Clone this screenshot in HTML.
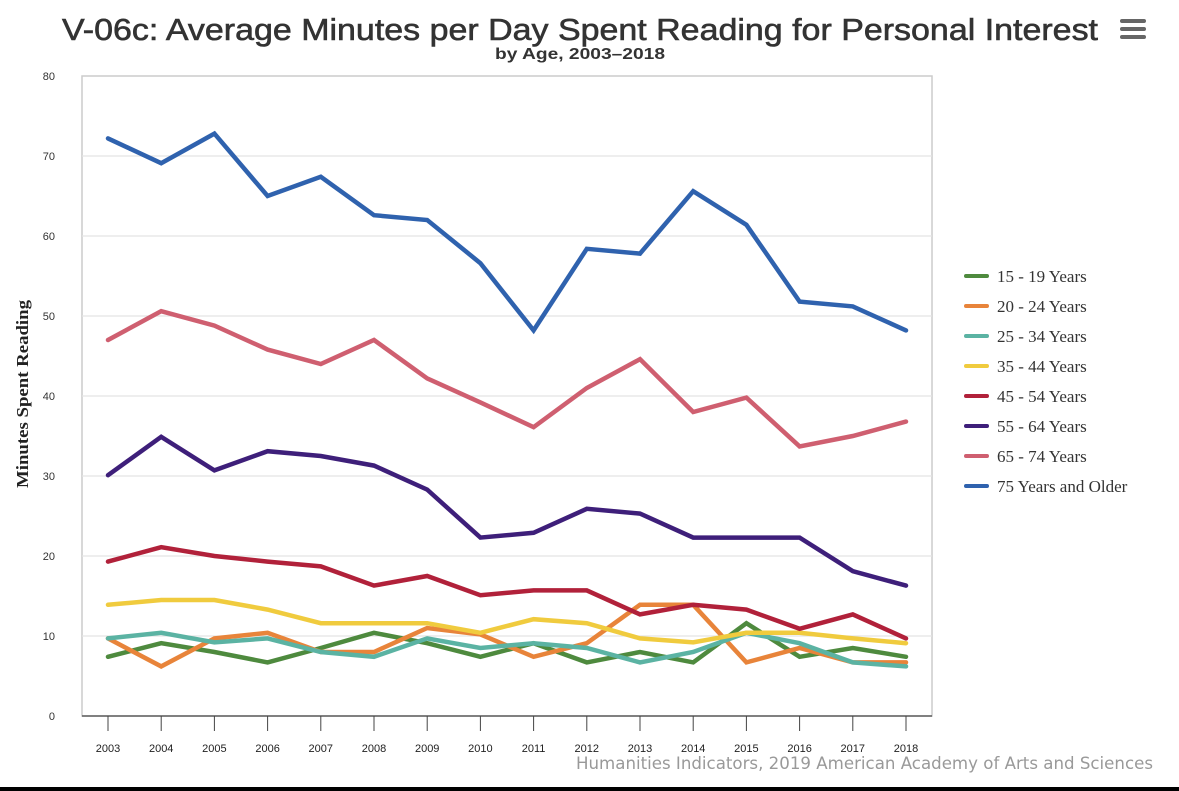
<!DOCTYPE html>
<html><head><meta charset="utf-8"><style>
html,body{margin:0;padding:0;background:#fff;width:1179px;height:791px;overflow:hidden;}
svg{display:block;}
</style></head><body>
<svg id="chart" width="1179" height="791" xmlns="http://www.w3.org/2000/svg">
<text x="62" y="40" textLength="1036" lengthAdjust="spacingAndGlyphs" font-family="Liberation Sans, sans-serif" font-size="31" fill="#333" stroke="#333" stroke-width="0.6">V-06c: Average Minutes per Day Spent Reading for Personal Interest</text>
<text x="495" y="59" textLength="170" lengthAdjust="spacingAndGlyphs" font-family="Liberation Sans, sans-serif" font-size="16" font-weight="bold" fill="#333">by Age, 2003–2018</text>
<g fill="#666">
<rect x="1120" y="19" width="26" height="4" rx="2"/><rect x="1120" y="27" width="26" height="4" rx="2"/><rect x="1120" y="35" width="26" height="4" rx="2"/>
</g>
<rect x="82" y="76" width="850" height="640" fill="none" stroke="#ccc" stroke-width="1.5"/>
<g id="grid"></g><g id="axes"></g><g id="series"></g><g id="legend"></g>
<text transform="translate(28,394) rotate(-90)" text-anchor="middle" textLength="188" lengthAdjust="spacingAndGlyphs" font-family="Liberation Serif, serif" font-size="17" font-weight="bold" fill="#222">Minutes Spent Reading</text>
<text x="576" y="769" textLength="577" lengthAdjust="spacingAndGlyphs" font-family="DejaVu Sans, sans-serif" font-size="17" fill="#999">Humanities Indicators, 2019 American Academy of Arts and Sciences</text>
<rect x="0" y="787" width="1179" height="4" fill="#000"/>
</svg>
<script>
const years=[2003,2004,2005,2006,2007,2008,2009,2010,2011,2012,2013,2014,2015,2016,2017,2018];
const yTicks=[0,10,20,30,40,50,60,70,80];
const seriesNames=["15 - 19 Years","20 - 24 Years","25 - 34 Years","35 - 44 Years","45 - 54 Years","55 - 64 Years","65 - 74 Years","75 Years and Older"];
const seriesColors=["#4e8a3e","#e8843a","#5bb3a3","#f0cb3e","#b1213a","#3e1f7a","#cf5f70","#2f62ae"];
const s15_19=[7.4,9.1,8,6.7,8.5,10.4,9.1,7.4,9.1,6.7,8,6.7,11.6,7.4,8.5,7.4];
const s20_24=[9.7,6.2,9.7,10.4,8,8,11,10.2,7.4,9.1,13.9,13.9,6.7,8.5,6.7,6.7];
const s25_34=[9.7,10.4,9.2,9.7,8,7.4,9.7,8.5,9.1,8.5,6.7,8,10.4,9.1,6.7,6.2];
const s35_44=[13.9,14.5,14.5,13.3,11.6,11.6,11.6,10.4,12.1,11.6,9.7,9.2,10.4,10.4,9.7,9.1];
const s45_54=[19.3,21.1,20,19.3,18.7,16.3,17.5,15.1,15.7,15.7,12.7,13.9,13.3,10.9,12.7,9.7];
const s55_64=[30.1,34.9,30.7,33.1,32.5,31.3,28.3,22.3,22.9,25.9,25.3,22.3,22.3,22.3,18.1,16.3];
const s65_74=[47,50.6,48.8,45.8,44,47,42.2,39.2,36.1,41,44.6,38,39.8,33.7,35,36.8];
const s75=[72.2,69.1,72.8,65,67.4,62.6,62,56.6,48.2,58.4,57.8,65.6,61.4,51.8,51.2,48.2];
const allSeries=[s15_19,s20_24,s25_34,s35_44,s45_54,s55_64,s65_74,s75];

const NS="http://www.w3.org/2000/svg";
const X0=108,X1=906,Y0=716,Y1=76;
function xScale(i){return X0+(X1-X0)*i/(years.length-1);}
function yScale(v){return Y0-(Y0-Y1)*v/80;}
function mk(tag,attrs,parent){const e=document.createElementNS(NS,tag);for(const k in attrs)e.setAttribute(k,attrs[k]);parent.appendChild(e);return e;}
const grid=document.getElementById('grid'),axes=document.getElementById('axes'),ser=document.getElementById('series'),leg=document.getElementById('legend');
yTicks.forEach(t=>{
  const y=yScale(t);
  if(t>0&&t<80){const l=mk('line',{x1:82,x2:932,y1:y,y2:y,stroke:'#e3e3e3','stroke-width':1.2},grid);
  
  }
  const tx=mk('text',{x:55,y:y+4,'text-anchor':'end','font-family':'Liberation Sans, sans-serif','font-size':11,fill:'#333'},axes);
  tx.textContent=t;
  
  
});
const ax=mk('line',{x1:82,x2:932,y1:716,y2:716,stroke:'#444','stroke-width':1.2},axes);


years.forEach((yr,i)=>{
  const x=xScale(i);
  const tk=mk('line',{x1:x,x2:x,y1:716,y2:731,stroke:'#444','stroke-width':1},axes);
  
  
  const tx=mk('text',{x:x,y:752,'text-anchor':'middle','font-family':'Liberation Sans, sans-serif','font-size':11,fill:'#222'},axes);
  tx.textContent=yr;
  
  
});
allSeries.forEach((vals,si)=>{
  const pts=vals.map((v,i)=>xScale(i).toFixed(1)+','+yScale(v).toFixed(1)).join(' ');
  const p=mk('polyline',{points:pts,fill:'none',stroke:seriesColors[si],'stroke-width':4.5,'stroke-linejoin':'miter','stroke-linecap':'round'},ser);
  
  
  const ly=276+si*30;
  const g=mk('g',{},leg);
  
  
  mk('line',{x1:966,x2:987,y1:ly,y2:ly,stroke:seriesColors[si],'stroke-width':4,'stroke-linecap':'round'},g);
  const t=mk('text',{x:997,y:ly+6,'font-family':'Liberation Serif, serif','font-size':17,fill:'#333'},g);
  t.textContent=seriesNames[si];
});
</script>
</body></html>
